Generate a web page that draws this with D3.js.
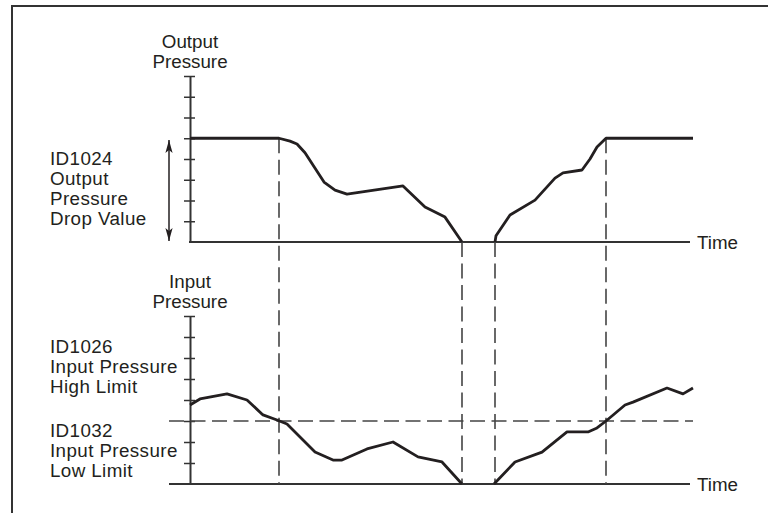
<!DOCTYPE html>
<html>
<head>
<meta charset="utf-8">
<script src="https://cdn.jsdelivr.net/npm/d3@7"></script>
<style>
  html, body { margin: 0; padding: 0; background: #fff; }
  svg { display: block; }
  text { font-family: "Liberation Sans", Arial, Helvetica, sans-serif; fill: #231f20; }
</style>
</head>
<body>
<svg id="chart" width="768" height="513"></svg>
<script>
// ---- data ----
// Output pressure (top panel): [time, level]; null separates the two segments
const outputTime  = [0, 17.8, 20, 21.4, 23, 26.8, 29, 31.4, 42.6, 47, 51, 54.4, null, 61, 61.2, 64, 69, 73, 74.6, 78.4, 80, 81.4, 83.2, 100.6];
const outputLevel = [5, 5, 4.86, 4.72, 4.3, 2.89, 2.5, 2.31, 2.70, 1.69, 1.20, 0, null, 0, 0.3, 1.30, 2.02, 3.08, 3.33, 3.47, 4.0, 4.58, 5, 5];
// Input pressure (bottom panel)
const inputTime  = [0, 2, 7.4, 11.4, 14.6, 17.4, 19.4, 25, 28.6, 30.4, 35.4, 40.6, 45.6, 50.4, 54.4, null, 60.8, 65, 70.4, 75.4, 79.6, 81.4, 83.2, 87, 88.6, 95.4, 98.6, 100.6];
const inputLevel = [3.76, 4.05, 4.29, 4.0, 3.29, 3.05, 2.86, 1.52, 1.14, 1.14, 1.67, 2.0, 1.29, 1.05, 0, null, 0, 1.05, 1.52, 2.48, 2.48, 2.67, 3.0, 3.76, 3.90, 4.57, 4.29, 4.57];
// Event markers (vertical dashed lines) and their start level on the output panel
const markerTimes = [17.8, 54.4, 61, 83.2];
const markerTopLevel = [5, 0, 0, 5];
const lowLimit = 3;
const tickLevels = [1, 2, 3, 4, 5, 6, 7, 8];
const outputTitle = ["Output", "Pressure"];
const inputTitle = ["Input", "Pressure"];
const dropLabel = ["ID1024", "Output", "Pressure", "Drop Value"];
const highLabel = ["ID1026", "Input Pressure", "High Limit"];
const lowLabel = ["ID1032", "Input Pressure", "Low Limit"];
const timeLabel = "Time";

// ---- drawing ----
const svg = d3.select("#chart");
const ink = "#231f20";
const fs = "18.8px";

const x = d3.scaleLinear().domain([0, 100]).range([190, 690]);
const yTop = d3.scaleLinear().domain([0, 8]).range([242, 76]);
const yBot = d3.scaleLinear().domain([0, 8]).range([484, 316]);

// frame
svg.append("path").attr("d", "M12,513 L12,6 L768,6")
  .attr("fill", "none").attr("stroke", "#333").attr("stroke-width", 2);

// arrow marker defs (tip along +x)
const defs = svg.append("defs");
defs.append("marker").attr("id", "ah").attr("viewBox", "-14 -5 15 10")
  .attr("refX", 0).attr("refY", 0).attr("markerWidth", 15).attr("markerHeight", 10)
  .attr("markerUnits", "userSpaceOnUse").attr("orient", "auto-start-reverse")
  .append("path").attr("d", "M0,0 L-13,-3.6 L-10,0 L-13,3.6 Z").attr("fill", ink);

function drawAxis(y, leftExtend) {
  const g = svg.append("g").attr("transform", `translate(${x(0)},0)`)
    .call(d3.axisLeft(y).tickValues(tickLevels).tickSize(6).tickSizeOuter(0).tickFormat(""));
  g.select(".domain").attr("stroke", "#333").attr("stroke-width", 2);
  g.selectAll(".tick line").attr("x1", 5).attr("x2", -6).attr("stroke", "#333").attr("stroke-width", 1.5);
  svg.append("line")
    .attr("x1", leftExtend).attr("x2", x(100))
    .attr("y1", y(0)).attr("y2", y(0))
    .attr("stroke", "#333").attr("stroke-width", 2);
}
drawAxis(yTop, x(0) - 1);
drawAxis(yBot, 169);

// dashed markers
const dash = "15,6.5";
markerTimes.forEach((t, i) => {
  svg.append("line")
    .attr("x1", x(t)).attr("x2", x(t))
    .attr("y1", yTop(markerTopLevel[i])).attr("y2", yBot(0))
    .attr("stroke", "#444").attr("stroke-width", 1.6)
    .attr("stroke-dasharray", dash);
});
// low limit dashed line
svg.append("line")
  .attr("x1", 169).attr("x2", x(100.6))
  .attr("y1", yBot(lowLimit)).attr("y2", yBot(lowLimit))
  .attr("stroke", "#444").attr("stroke-width", 1.6)
  .attr("stroke-dasharray", dash);

// series
function drawSeries(ts, vs, y) {
  const pts = ts.map((t, i) => [t, vs[i]]);
  const line = d3.line()
    .defined(d => d[0] !== null)
    .x(d => x(d[0])).y(d => y(d[1]))
    .curve(d3.curveLinear);
  svg.append("path").attr("d", line(pts))
    .attr("fill", "none").attr("stroke", ink).attr("stroke-width", 2.8)
    .attr("stroke-linejoin", "round");
}
drawSeries(outputTime, outputLevel, yTop);
drawSeries(inputTime, inputLevel, yBot);

// double arrow
svg.append("line")
  .attr("x1", 169).attr("x2", 169).attr("y1", 140).attr("y2", 241)
  .attr("stroke", ink).attr("stroke-width", 1.5)
  .attr("marker-start", "url(#ah)").attr("marker-end", "url(#ah)");

// texts
function lines(arr, xx, y0, anchor, ls) {
  const t = svg.append("text").attr("font-size", fs).attr("text-anchor", anchor || "start")
    .attr("letter-spacing", ls || 0);
  arr.forEach((s, i) => t.append("tspan").attr("x", xx).attr("y", y0 + i * 20).text(s));
}
lines(outputTitle, 190, 48, "middle");
lines(inputTitle, 190, 288, "middle");
lines(dropLabel, 50, 165, "start", 0.4);
lines(highLabel, 50, 353, "start", 0.4);
lines(lowLabel, 50, 437, "start", 0.4);
svg.append("text").attr("x", 697).attr("y", 249).attr("font-size", fs).text(timeLabel);
svg.append("text").attr("x", 697).attr("y", 491).attr("font-size", fs).text(timeLabel);
</script>
</body>
</html>
